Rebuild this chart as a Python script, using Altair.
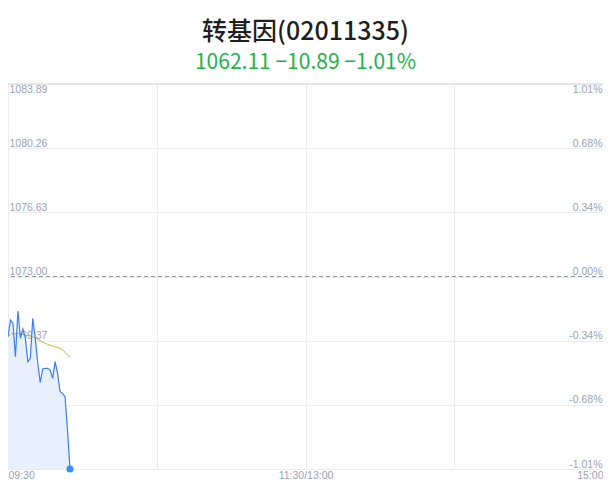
import altair as alt
import pandas as pd

# ---- data ----
minutes = list(range(26))
prices = [1069.59, 1070.54, 1070.35, 1068.46, 1071.05, 1069.50, 1070.03, 1069.50, 1068.18, 1068.37,
          1070.64, 1069.50, 1068.09, 1067.01, 1067.77, 1067.80, 1067.81, 1067.71, 1067.24, 1068.18,
          1067.52, 1066.48, 1066.39, 1066.20, 1064.30, 1062.11]
avg_prices = [1069.59, 1069.72, 1069.78, 1069.76, 1069.79, 1069.76, 1069.73, 1069.69, 1069.66, 1069.62,
              1069.58, 1069.52, 1069.44, 1069.37, 1069.29, 1069.22, 1069.16, 1069.11, 1069.07, 1069.03,
              1068.99, 1068.93, 1068.85, 1068.72, 1068.56, 1068.46]
prev_close = 1073.00
price_ticks = [1062.11, 1065.74, 1069.37, 1073.00, 1076.63, 1080.26, 1083.89]
pct_labels = ["-1.01%", "-0.68%", "-0.34%", "0.00%", "0.34%", "0.68%", "1.01%"]
time_ticks = [0, 60, 120, 180, 240]
time_labels = ["09:30", "", "11:30/13:00", "", "15:00"]
title_text = "转基因(02011335)"
subtitle_text = "1062.11 −10.89 −1.01%"

df = pd.DataFrame({"minute": minutes, "price": prices, "avg": avg_prices})
df["base"] = price_ticks[0]
last_df = df.tail(1)
ref_df = pd.DataFrame({"price": [prev_close]})
top_df = pd.DataFrame({"price": [price_ticks[-1]]})


def lookup_expr(values, labels):
    expr = "''"
    for v, l in zip(reversed(values), reversed(labels)):
        expr = f"abs(datum.value - {v}) < 0.001 ? '{l}' : ({expr})"
    return expr


x_scale = alt.Scale(domain=[time_ticks[0], time_ticks[-1]], nice=False, zero=False)
y_scale = alt.Scale(domain=[price_ticks[0], price_ticks[-1]], nice=False, zero=False)

label_base = {"condition": {"test": f"datum.value > {price_ticks[-1] - 0.01}", "value": "top"},
              "value": "bottom"}

common = dict(ticks=False, tickSize=0, domain=False, labelFont="Liberation Sans", labelFontSize=10.5,
              labelColor="#9ba2b2", gridColor="#ebebf0", gridWidth=1, labelOverlap=False, title=None)

x_axis = alt.Axis(values=time_ticks, labelExpr=lookup_expr(time_ticks, time_labels), grid=True,
                  labelFlush=True, labelPadding=1,
                  gridOpacity={"condition": {"test": f"datum.value >= {time_ticks[-1]}", "value": 0}, "value": 1},
                  **common)
y_left = alt.Axis(orient="left", values=price_ticks, format=".2f", grid=True, labelAlign="left",
                  labelPadding=-1, labelBaseline=label_base, **common)
y_right = alt.Axis(orient="right", values=price_ticks, labelExpr=lookup_expr(price_ticks, pct_labels),
                   grid=False, labelAlign="right", labelPadding=-1, labelBaseline=label_base, **common)

X = alt.X("minute:Q", scale=x_scale, axis=x_axis)

area = alt.Chart(df).mark_area(color="#e9f0fd", opacity=1).encode(
    x=X, y=alt.Y("price:Q", scale=y_scale, axis=y_left), y2="base:Q")
line = alt.Chart(df).mark_line(color="#3a7ef2", strokeWidth=1.2).encode(
    x=X, y=alt.Y("price:Q", scale=y_scale, axis=y_left))
avg = alt.Chart(df).mark_line(color="#cfb23a", strokeWidth=1).encode(
    x=X, y=alt.Y("avg:Q", scale=y_scale, axis=y_left))
ref_rule = alt.Chart(ref_df).mark_rule(color="#8f98aa", strokeDash=[4, 3], strokeWidth=1).encode(
    y=alt.Y("price:Q", scale=y_scale, axis=y_left))
top_rule = alt.Chart(top_df).mark_rule(color="#e1e1e8", strokeWidth=1.5).encode(
    y=alt.Y("price:Q", scale=y_scale, axis=y_left), x=alt.value(0), x2=alt.value(595))
dot = alt.Chart(last_df).mark_circle(color="#3a8cf6", size=50, opacity=1).encode(
    x=X, y=alt.Y("price:Q", scale=y_scale, axis=y_left))

left = alt.layer(area, ref_rule, top_rule, avg, line, dot)
right = alt.Chart(df).mark_line(opacity=0).encode(
    x=X, y=alt.Y("price:Q", scale=y_scale, axis=y_right))

chart = alt.layer(left, right).resolve_scale(y="independent").properties(
    width=595, height=385,
    autosize="none",
    padding={"left": 0, "top": 76, "right": 0, "bottom": 12},
    title=alt.TitleParams(
        text=title_text, subtitle=subtitle_text, anchor="middle", frame="group",
        font="Noto Sans CJK SC", fontSize=25, fontWeight=500, color="#1f1f1f",
        subtitleFont="Noto Sans CJK SC", subtitleFontSize=21, subtitleColor="#22b14c",
        subtitlePadding=7, offset=10),
).configure_view(strokeWidth=0).configure(background="white")

chart.save("out.html", embed_options={"renderer": "svg", "actions": False})
